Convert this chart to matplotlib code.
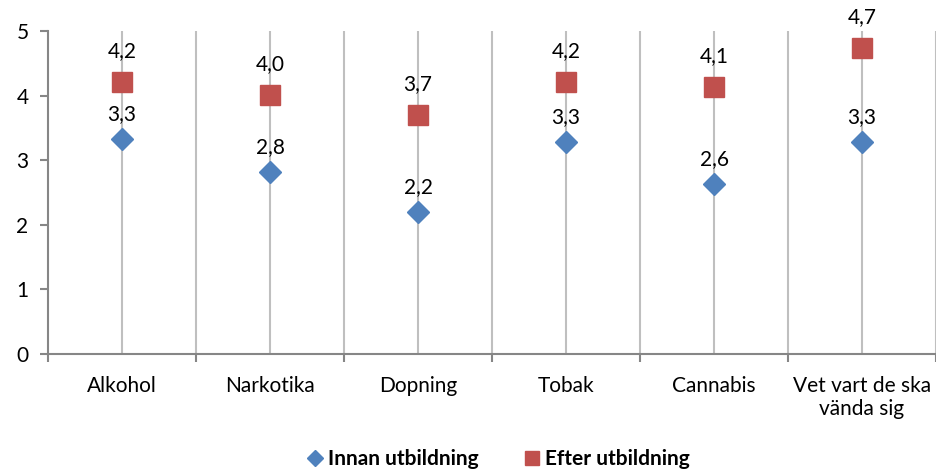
import matplotlib
matplotlib.use('Agg')
from matplotlib import pyplot as plt
import numpy as np

categories = ['Alkohol', 'Narkotika', 'Dopning', 'Tobak', 'Cannabis', 'Vet vart de ska\nvända sig']
innan = [3.33, 2.82, 2.20, 3.28, 2.63, 3.28]
efter = [4.21, 4.01, 3.70, 4.21, 4.13, 4.74]
innan_labels = ['3,3', '2,8', '2,2', '3,3', '2,6', '3,3']
efter_labels = ['4,2', '4,0', '3,7', '4,2', '4,1', '4,7']

plt.rcParams['font.family'] = ['Lato', 'DejaVu Sans']
fs = 15

fig = plt.figure(figsize=(9.36, 4.73), dpi=100)
ax = fig.add_axes([0.0513, 0.2516, 0.9487, 0.6829])

x = np.arange(len(categories))
grid_col = '#BFBFBF'
# vertical gridlines at centres and boundaries
for xv in np.arange(-0.5, len(categories), 0.5)[1:]:
    ax.axvline(xv, color=grid_col, linewidth=1.5, zorder=1)

ax.plot(x, innan, linestyle='none', marker='D', markersize=11, color='#4F81BD',
        label='Innan utbildning', zorder=3)
ax.plot(x, efter, linestyle='none', marker='s', markersize=14, color='#C0504D',
        label='Efter utbildning', zorder=3)

for xi, v, t in zip(x, innan, innan_labels):
    ax.annotate(t, (xi, v), xytext=(0, 10.5), textcoords='offset points',
                ha='center', va='bottom', fontsize=fs)
for xi, v, t in zip(x, efter, efter_labels):
    ax.annotate(t, (xi, v), xytext=(0, 15), textcoords='offset points',
                ha='center', va='bottom', fontsize=fs)

ax.set_xlim(-0.5, len(categories) - 0.5)
ax.set_ylim(0, 5)
ax.set_yticks(range(6))
ax.set_xticks(x)
ax.set_xticklabels(categories, fontsize=fs, va='top', linespacing=1.15)
ax.tick_params(axis='x', length=0, pad=16)
ax.set_xticks(np.arange(-0.5, len(categories), 1), minor=True)
ax.tick_params(axis='x', which='minor', length=6, color='#868686', width=1.5)
ax.tick_params(axis='y', length=6, color='#868686', width=1.5, labelsize=fs, pad=8)

for s in ['top', 'right']:
    ax.spines[s].set_visible(False)
for s in ['left', 'bottom']:
    ax.spines[s].set_color('#868686')
    ax.spines[s].set_linewidth(1.5)

fig.legend(loc='lower center', ncol=2, frameon=False, bbox_to_anchor=(0.53, -0.032),
           prop={'weight': 'bold', 'size': fs}, handletextpad=0.0, columnspacing=2.0,
           handlelength=1.2, markerscale=0.75)

fig.savefig('out.png', dpi=100)
